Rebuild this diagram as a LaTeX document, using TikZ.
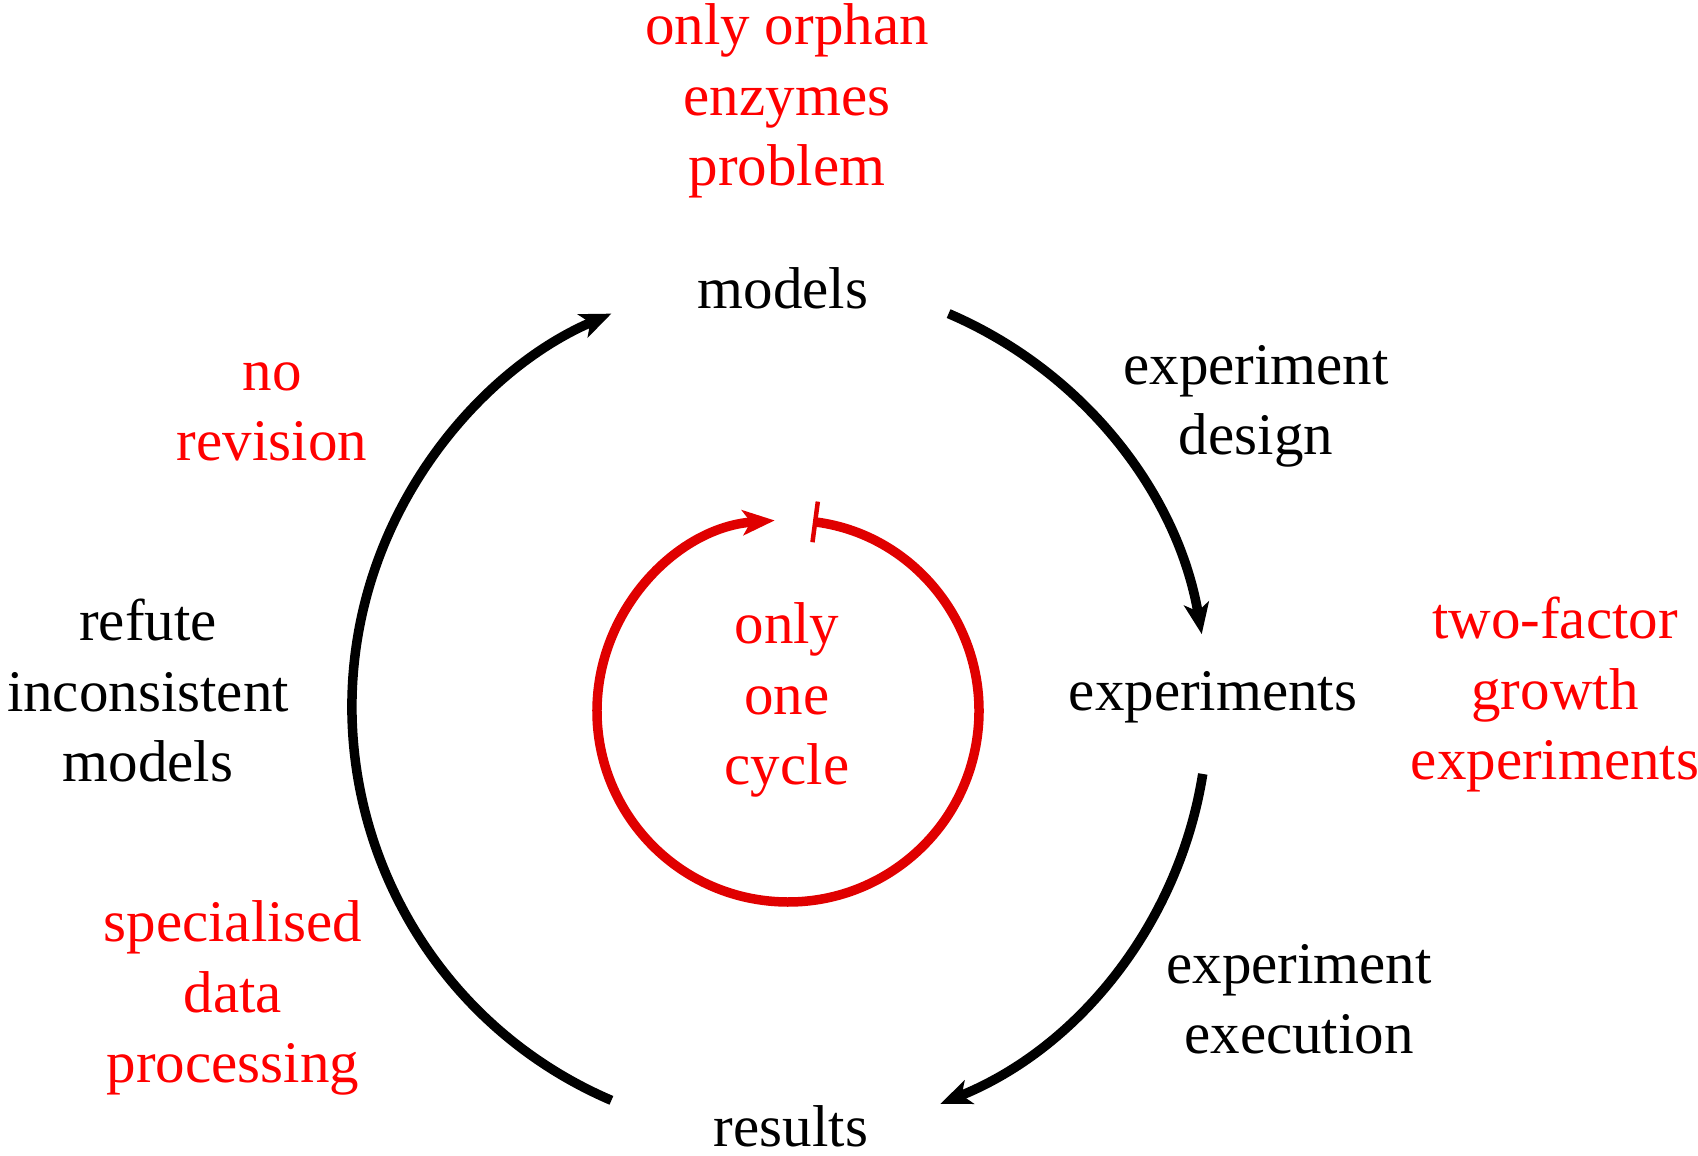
\documentclass[tikz,border=0pt]{standalone}
\usepackage{fontspec}
\setmainfont{Liberation Serif}
\usetikzlibrary{arrows.meta,calc}
\begin{document}
\begin{tikzpicture}[x=1pt,y=1pt,
  lbl/.style={inner sep=0pt, align=center, font=\fontsize{59}{70.5}\selectfont, anchor=base},
  note/.style={lbl, text=red},
  cyc/.style={line width=9.5pt, -{Stealth[length=31pt,width=25pt,inset=8pt]}},
  loopline/.style={line width=9.5pt, draw=red!88!black,
    {Bar[width=41pt,line width=4.5pt]}-{Stealth[length=32pt,width=25pt,inset=8pt]}}]
\useasboundingbox (0,0) rectangle (1698,1156);

% centres of the outer cycle and the inner loop
\coordinate (c) at (780,449);
\coordinate (r) at (788,445);

% stages of the cycle
\node[lbl] (models) at (783,847) {models};
\node[lbl] (experiments) at (1213,445) {experiments};
\node[lbl] (results) at (791,9) {results};

% transitions (positions give the baseline of the last line)
\node[lbl] (design) at (1256,701) {experiment\\design};
\node[lbl] (exec) at (1299,102) {experiment\\execution};
\node[lbl] (refute) at (148,374) {refute\\inconsistent\\models};

% remarks
\node[note] (orphan) at (787,970) {only orphan\\enzymes\\problem};
\node[note] (norev) at (272,695) {no\\revision};
\node[note] (twofac) at (1555,376) {two-factor\\growth\\experiments};
\node[note] (special) at (233,73) {specialised\\data\\processing};
\node[note] (onecyc) at (787,371) {only\\one\\cycle};

% arc end points
\coordinate (mStart) at ($(c)+(66.8:428)$);
\coordinate (eStart) at ($(c)+(-9:428)$);
\coordinate (rStart) at ($(c)+(246.8:428)$);
\coordinate (lStart) at ($(r)+(82.5:191)$);

\draw[cyc] (mStart) arc[start angle=66.8, end angle=9.8, radius=428];
\draw[cyc] (eStart) arc[start angle=-9, end angle=-68, radius=428];
\draw[cyc] (rStart) arc[start angle=246.8, end angle=113.2, radius=428];
\draw[loopline] (lStart) arc[start angle=82.5, end angle=-266, radius=191];
\end{tikzpicture}
\end{document}
